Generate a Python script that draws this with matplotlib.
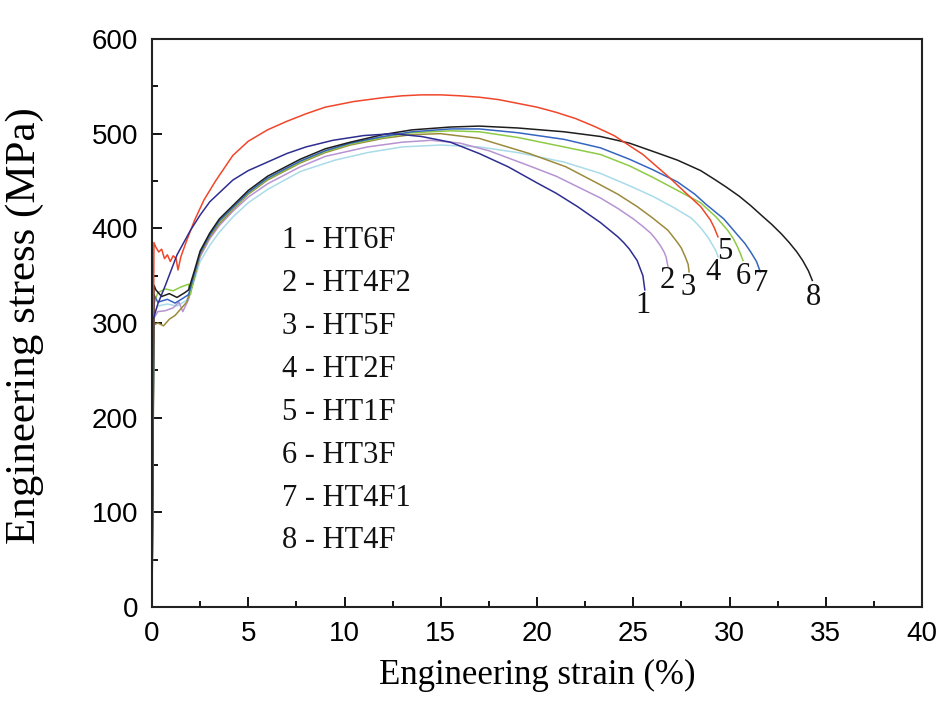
import numpy as np
import matplotlib as mpl
mpl.use('Agg')
import matplotlib.pyplot as plt
from matplotlib.ticker import MultipleLocator

# Curve data (strain in %, stress in MPa)
# 1 - HT6F
strain_1 = [0, 0.05, 0.3, 0.7, 1.3, 2.0, 2.5, 3.0, 4.2, 5.0, 6.0, 7.0, 8.0, 9.4, 11.0, 12.5,
            14.0, 15.5, 17.0, 18.5, 20.0, 21.0, 22.1, 23.3, 24.2, 24.5, 24.8, 25.0, 25.2, 25.35,
            25.5, 25.6]
stress_1 = [0, 303, 320, 340, 372, 398, 414, 428, 451, 461, 470, 479, 486, 493, 498, 500,
            497, 491, 479, 465, 448, 437, 423, 406, 391, 385, 378, 372, 366, 358,
            350, 335]

# 2 - HT4F2
strain_2 = [0, 0.1, 0.3, 0.7, 1.1, 1.4, 1.6, 1.9, 2.2, 2.5, 3.0, 3.5, 4.2, 5.0, 6.0, 7.7, 9.0,
            11.2, 13.0, 14.5, 16.0, 17.5, 19.6, 21.0, 22.2, 23.3, 24.2, 25.0, 25.5, 25.9, 26.15,
            26.4, 26.6, 26.7, 26.8]
stress_2 = [0, 305, 312, 313, 316, 322, 312, 325, 348, 370, 389, 403, 418, 433, 447, 465, 476,
            486, 491, 493, 490, 482, 466, 455, 443, 432, 421, 410, 402, 395, 389,
            382, 375, 370, 360]

# 3 - HT5F
strain_3 = [0, 0.1, 0.3, 0.6, 0.9, 1.2, 1.5, 1.8, 2.1, 2.5, 3.0, 3.5, 4.2, 5.0, 6.0, 7.7, 9.0,
            10.3, 12.0, 13.5, 15.0, 17.0, 19.6, 21.5, 23.1, 24.2, 25.2, 26.0, 26.8, 27.3, 27.5,
            27.7, 27.85, 27.9]
stress_3 = [0, 298, 300, 297, 304, 308, 315, 322, 340, 372, 391, 405, 420, 436, 451, 469, 480,
            488, 495, 499, 500, 495, 479, 465, 448, 436, 423, 411, 398, 385, 379,
            370, 362, 354]

# 4 - HT2F
strain_4 = [0, 0.1, 0.3, 0.8, 1.3, 1.8, 2.2, 2.5, 3.0, 3.5, 4.2, 5.0, 6.0, 7.7, 9.5, 11.2,
            13.0, 15.0, 17.0, 19.0, 21.4, 23.3, 24.8, 26.0, 27.1, 28.0, 28.3, 28.6, 28.9, 29.1,
            29.3, 29.4]
stress_4 = [0, 310, 318, 320, 318, 324, 345, 365, 382, 396, 412, 427, 441, 460, 472, 480,
            486, 488, 486, 480, 470, 458, 445, 434, 422, 411, 405, 398, 390, 383,
            376, 370]

# 5 - HT1F
strain_5 = [0, 0.05, 0.1, 0.2, 0.35, 0.5, 0.65, 0.8, 0.95, 1.1, 1.25, 1.35, 1.5, 1.8, 2.2, 2.7,
            3.3, 4.2, 5.0, 6.0, 7.0, 8.0, 9.0, 10.5, 12.0, 13.0, 14.0, 15.0, 16.0, 17.0, 18.0,
            19.0, 20.0, 21.0, 22.0, 23.0, 24.0, 25.5, 26.8, 27.8, 28.5, 29.0, 29.2, 29.4]
stress_5 = [0, 200, 385, 380, 375, 378, 368, 372, 365, 371, 368, 356, 370, 387, 408, 430,
            450, 477, 492, 504, 513, 521, 528, 534, 538, 540, 541, 541, 540, 538.5, 536,
            532, 528, 522.5, 516, 507.5, 498, 478, 455, 436, 423, 409, 401, 391]

# 6 - HT3F
strain_6 = [0, 0.1, 0.3, 0.7, 1.1, 1.5, 1.9, 2.0, 2.2, 2.5, 3.0, 3.5, 4.2, 5.0, 6.0, 7.7, 9.0,
            10.3, 12.0, 13.5, 15.5, 17.0, 19.0, 21.4, 23.3, 24.8, 26.0, 27.3, 28.5, 29.3, 29.9,
            30.2, 30.4, 30.55, 30.7]
stress_6 = [0, 320, 332, 336, 334, 338, 341, 330, 350, 374, 393, 407, 421, 437, 452, 470, 481,
            489, 496, 501, 503, 502, 496, 486, 478, 466, 454, 440, 427, 412, 398,
            389, 381, 374, 366]

# 7 - HT4F1
strain_7 = [0, 0.1, 0.3, 0.8, 1.2, 1.6, 1.9, 2.2, 2.5, 3.0, 3.5, 4.2, 5.0, 6.0, 7.7, 9.0, 10.3,
            12.0, 13.5, 15.5, 17.0, 19.0, 21.4, 23.3, 24.8, 26.0, 27.3, 28.2, 28.8, 29.7, 30.5,
            30.8, 31.1, 31.4, 31.6]
stress_7 = [0, 330, 322, 325, 321, 326, 330, 352, 374, 393, 408, 422, 438, 453, 471, 482, 490,
            497, 502, 505, 505, 501, 494, 485, 473, 462, 449, 436, 425, 410, 391,
            384, 375, 365, 354]

# 8 - HT4F
strain_8 = [0, 0.1, 0.2, 0.5, 0.9, 1.3, 1.7, 1.9, 2.2, 2.5, 3.0, 3.5, 4.2, 5.0, 6.0, 7.7, 9.0,
            10.3, 12.0, 13.5, 15.5, 17.0, 19.0, 21.4, 23.3, 24.8, 26.2, 27.3, 28.5, 29.2, 29.8,
            30.5, 31.1, 31.7, 32.2, 32.7, 33.1, 33.5, 33.8, 34.1, 34.3]
stress_8 = [0, 340, 335, 328, 331, 327, 332, 335, 355, 376, 395, 410, 424, 440, 455, 473, 484,
            491, 499, 504, 507, 508, 506, 502, 497, 490, 480, 472, 461, 452, 444,
            434, 424, 413, 404, 394, 385, 375, 366, 355, 345]

# Legend entries and curve number labels
names = ['1 - HT6F', '2 - HT4F2', '3 - HT5F', '4 - HT2F',
         '5 - HT1F', '6 - HT3F', '7 - HT4F1', '8 - HT4F']
num_x = [25.5, 26.75, 27.85, 29.15, 29.75, 30.7, 31.6, 34.35]
num_y = [319, 345, 338, 353, 375, 349, 342, 327]

colors = ['#2e2e92', '#b793d2', '#9c8b3c', '#a9dbe9',
          '#f0462a', '#8dcb45', '#3565c0', '#1e1e1e']

serif = 'Liberation Serif'
sans = 'Liberation Sans'

#
# Plot figure
#
fg = plt.figure(figsize=(9.53, 7.13), dpi=100)
ax = fg.add_axes([0.1595, 0.1487, 0.808, 0.7966])

curves = [(strain_1, stress_1), (strain_2, stress_2), (strain_3, stress_3), (strain_4, stress_4),
          (strain_5, stress_5), (strain_6, stress_6), (strain_7, stress_7), (strain_8, stress_8)]

# draw light ones first, dark navy last
for i in [3, 1, 2, 5, 6, 7, 4, 0]:
  x, y = curves[i]
  ax.plot(x, y, color=colors[i], lw=1.1)

# Curve numbers at fracture points
for i in range(8):
  ax.text(num_x[i], num_y[i], str(i + 1), ha='center', va='center',
          fontsize=22, family=serif, color='#111111')

# Legend as plain text
for i, s in enumerate(names):
  ax.text(6.75, 387.5 - i * 45.4, s, ha='left', va='center',
          fontsize=22, family=serif, color='#111111')

# Axes settings
ax.set_xlim(0, 40)
ax.set_ylim(0, 600)
ax.xaxis.set_major_locator(MultipleLocator(5))
ax.xaxis.set_minor_locator(MultipleLocator(2.5))
ax.yaxis.set_major_locator(MultipleLocator(100))
ax.yaxis.set_minor_locator(MultipleLocator(50))
ax.tick_params(which='both', direction='in', width=1.3, top=False, right=False)
ax.tick_params(which='major', length=7, pad=10, labelsize=20)
ax.tick_params(which='minor', length=4)
for lab in ax.get_xticklabels() + ax.get_yticklabels():
  lab.set_family(sans)
for sp in ax.spines.values():
  sp.set_linewidth(1.5)
  sp.set_color('#222222')

ax.set_xlabel('Engineering strain (%)', fontsize=25, family=serif, va='center', ha='center')
ax.set_ylabel('Engineering stress (MPa)', fontsize=31, family=serif, va='center', ha='center')
ax.xaxis.set_label_coords(0.5, -0.12)
ax.yaxis.set_label_coords(-0.165, 0.495)

fg.savefig('out.png', dpi=100)
plt.close(fg)
